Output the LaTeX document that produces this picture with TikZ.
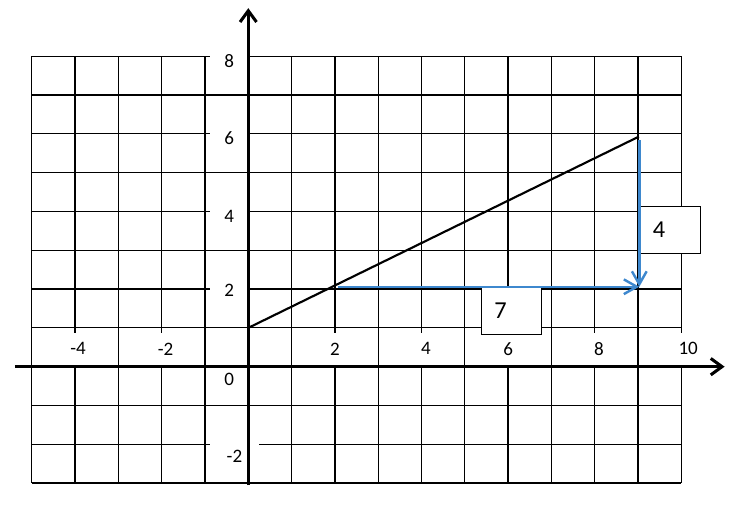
\documentclass[tikz,border=0pt]{standalone}
\usepackage{fontspec}
\setmainfont{Carlito}
\usetikzlibrary{arrows.meta}
\definecolor{vecblue}{RGB}{62,136,206}
\tikzset{
  >=Stealth,
  gridln/.style={line width=0.8pt, black},
  ax/.style={line width=2pt, -{Straight Barb[length=2.6mm,width=3.8mm]}},
  xlbl/.style={fill=white, inner sep=0pt, minimum width=0.85cm, minimum height=0.74cm, font=\fontsize{12.5}{14}\selectfont},
  ylbl/.style={fill=white, inner sep=0pt, minimum width=0.88cm, minimum height=0.6cm, font=\fontsize{12.5}{14}\selectfont},
  ln/.style={line width=1.4pt},
  vec/.style={vecblue, line width=1.6pt, -{Straight Barb[length=3mm,width=3.4mm]}},
  box/.style={draw, fill=white, line width=0.6pt, inner xsep=0.3cm, inner ysep=0pt, text width=0.8cm, minimum height=1.075cm, align=left, font=\fontsize{16}{18}\selectfont}
}
\begin{document}
\begin{tikzpicture}[x=1cm, y=0.896cm]
    \useasboundingbox (-5.734,-3.590) rectangle (11.656,9.451);

    % Grid
    \draw[gridln] (-5,-3) grid[step={(1,1)}] (10,8);

    % Tick labels on the x-axis
    \node[xlbl] (xm4) at (-3.93,0.46) {-4};
    \node[xlbl] (xm2) at (-1.91,0.46) {-2};
    \node[xlbl] (x2) at (2.0,0.46) {2};
    \node[xlbl] (x4) at (4.1,0.46) {4};
    \node[xlbl] (x6) at (6.0,0.46) {6};
    \node[xlbl] (x8) at (8.1,0.46) {8};
    \node[xlbl] (x10) at (10.16,0.46) {10};

    % Tick labels on the y-axis
    \node[ylbl] (y8) at (-0.44,7.88) {8};
    \node[ylbl] (y6) at (-0.44,5.90) {6};
    \node[ylbl] (y4) at (-0.44,3.88) {4};
    \node[ylbl] (y2) at (-0.44,1.98) {2};
    \node[ylbl] (y0) at (-0.44,-0.32) {0};
    \node[ylbl, minimum width=1.14cm] (ym2) at (-0.32,-2.30) {-2};

    % Axes
    \coordinate (xs) at (-5.39,0);
    \coordinate (xe) at (11.0,0);
    \coordinate (ys) at (0,-3.05);
    \coordinate (ye) at (0,9.24);
    \draw[ax] (xs) -- (xe);
    \draw[ax] (ys) -- (ye);

    % Line
    \coordinate (p0) at (0,1);
    \coordinate (p1) at (9.02,5.93);
    \draw[ln] (p0) -- (p1);

    % Run and rise
    \node[box, anchor=north west] (run) at (5.37,2.05) {7};
    \node[box, anchor=north west] (rise) at (9.03,4.14) {4};

    \coordinate (q0) at (2.07,2.06);
    \coordinate (q1) at (9.03,2.06);
    \coordinate (q2) at (9.03,5.84);
    \draw[vec] (q0) -- (q1);
    \draw[vec] (q2) -- (q1);
\end{tikzpicture}
\end{document}
